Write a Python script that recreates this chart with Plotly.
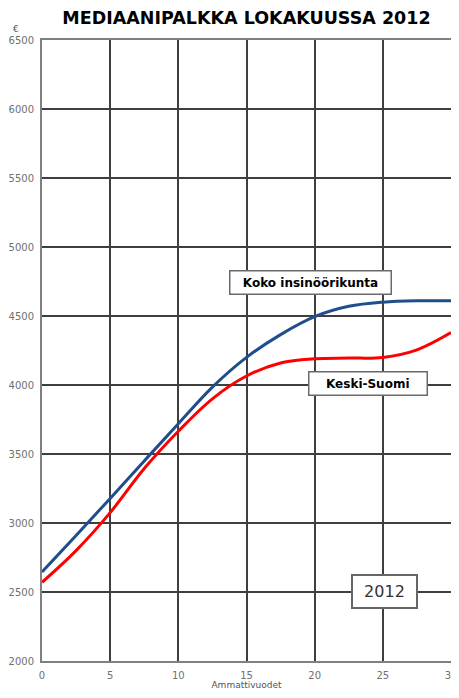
import plotly.graph_objects as go

years = [0, 2.5, 5, 7.5, 10, 12.5, 15, 17.5, 20, 22.5, 25, 27.5, 30]
koko = [2645, 2910, 3178, 3450, 3720, 3985, 4200, 4365, 4495, 4570, 4600, 4610, 4610]
keski = [2570, 2800, 3075, 3395, 3665, 3900, 4065, 4160, 4190, 4195, 4200, 4255, 4380]
x_ticks = [0, 5, 10, 15, 20, 25, 30]
y_ticks = [2000, 2500, 3000, 3500, 4000, 4500, 5000, 5500, 6000, 6500]

fig = go.Figure()
fig.add_trace(go.Scatter(x=years, y=koko, mode="lines", line=dict(color="#1f4e8c", width=3, shape="spline", smoothing=1.0), name="Koko insinöörikunta"))
fig.add_trace(go.Scatter(x=years, y=keski, mode="lines", line=dict(color="#ff0000", width=3, shape="spline", smoothing=1.0), name="Keski-Suomi"))

axis_common = dict(showgrid=True, gridcolor="#3f3f3f", gridwidth=2, showline=True, linecolor="#808080", linewidth=2,
                   mirror=True, zeroline=False, ticks="", automargin=False, ticklabelstandoff=4,
                   ticklabeloverflow="allow",
                   tickfont=dict(family="DejaVu Sans", size=10, color="#707070"))
fig.update_xaxes(range=[0, 30], tickvals=x_ticks, **axis_common,
                 title=dict(text="Ammattivuodet", font=dict(family="DejaVu Sans", size=9, color="#555555"), standoff=6))
fig.update_yaxes(range=[2000, 6500], tickvals=y_ticks, **axis_common)

box_font = dict(family="DejaVu Sans", size=12, color="black")
fig.add_annotation(x=19.7, y=4746, text="<b>&nbsp;&nbsp;Koko insinöörikunta&nbsp;&nbsp;</b>", showarrow=False, bgcolor="white",
                   bordercolor="#6a6a6a", borderwidth=1.5, borderpad=4, font=box_font)
fig.add_annotation(x=23.9, y=4014, text="<b>&nbsp;&nbsp;&nbsp;Keski-Suomi&nbsp;&nbsp;&nbsp;</b>", showarrow=False, bgcolor="white",
                   bordercolor="#6a6a6a", borderwidth=1.5, borderpad=4, font=box_font)
fig.add_annotation(x=25.1, y=2507, text="&nbsp;2012&nbsp;", showarrow=False, bgcolor="white",
                   bordercolor="#666666", borderwidth=2, borderpad=6, font=dict(family="DejaVu Sans", size=16, color="#333333"))
fig.add_annotation(xref="paper", yref="paper", x=-0.077, y=1.029, text="€", showarrow=False,
                   font=dict(family="DejaVu Sans", size=9, color="#555555"))

fig.update_layout(
    width=451, height=682, autosize=False,
    margin=dict(l=34, r=8, t=32, b=29),
    title=dict(text="<b>MEDIAANIPALKKA LOKAKUUSSA 2012</b>", x=0.5, xanchor="center", xref="paper",
               y=0.9853, yanchor="middle", yref="container",
               font=dict(family="DejaVu Sans", size=17.5, color="black")),
    plot_bgcolor="white", paper_bgcolor="white", showlegend=False,
)
fig.write_html("out.html")
